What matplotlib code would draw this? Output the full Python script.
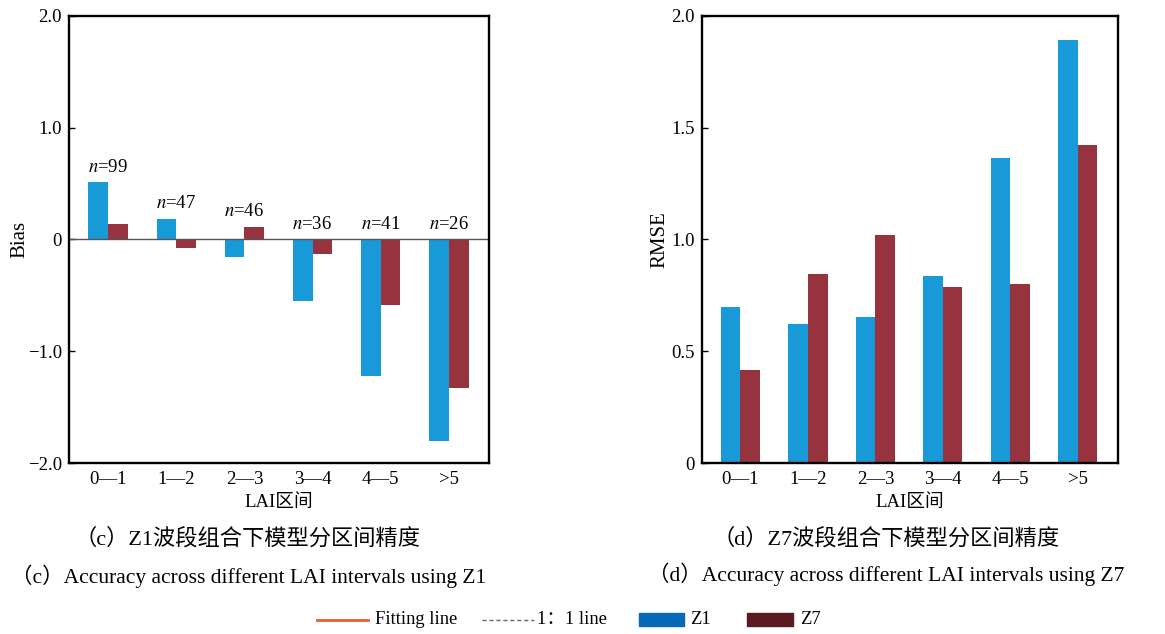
import matplotlib
matplotlib.use("Agg")
import matplotlib.pyplot as plt
from matplotlib.lines import Line2D
from matplotlib.patches import Rectangle
import numpy as np

plt.rcParams['font.family'] = ['Liberation Serif', 'Noto Sans CJK SC', 'DejaVu Sans']
plt.rcParams['mathtext.fontset'] = 'stix'

categories = ["0—1", "1—2", "2—3", "3—4", "4—5", ">5"]
n_counts = [99, 47, 46, 36, 41, 26]
bias_z1 = [0.51, 0.18, -0.155, -0.55, -1.22, -1.80]
bias_z7 = [0.14, -0.075, 0.115, -0.13, -0.585, -1.33]
rmse_z1 = [0.70, 0.622, 0.653, 0.835, 1.366, 1.894]
rmse_z7 = [0.415, 0.847, 1.021, 0.787, 0.802, 1.421]
bias_ticks = [-2.0, -1.0, 0.0, 1.0, 2.0]
bias_ticklabels = ["−2.0", "−1.0", "0", "1.0", "2.0"]
rmse_ticks = [0.0, 0.5, 1.0, 1.5, 2.0]
rmse_ticklabels = ["0", "0.5", "1.0", "1.5", "2.0"]

C_Z1 = "#199ad8"
C_Z7 = "#96333f"
FS = 13.5

fig = plt.figure(figsize=(11.65, 6.34), dpi=100)
axL = fig.add_axes([0.0592, 0.2697, 0.3605, 0.7051])
axR = fig.add_axes([0.6023, 0.2697, 0.3571, 0.7051])

x = np.arange(len(categories))
w = 0.29

def style(ax, ticks, labels, ylim, ylabel):
    ax.set_xlim(-0.575, 5.59)
    ax.set_ylim(*ylim)
    ax.set_yticks(ticks)
    ax.set_yticklabels(labels, fontsize=FS)
    ax.set_xticks(x)
    ax.set_xticklabels(categories, fontsize=FS)
    ax.tick_params(axis='y', direction='in', length=4, width=1, pad=5)
    ax.tick_params(axis='x', length=0, pad=6)
    for s in ax.spines.values():
        s.set_linewidth(1.7)
    ax.set_xlabel("LAI区间", fontsize=FS, labelpad=4)
    ax.set_ylabel(ylabel, fontsize=15)

# Left: Bias
axL.bar(x - w/2, bias_z1, w, color=C_Z1, linewidth=0)
axL.bar(x + w/2, bias_z7, w, color=C_Z7, linewidth=0)
axL.axhline(0, color="#555555", linewidth=1.0)
style(axL, bias_ticks, bias_ticklabels, (-2.0, 2.0), "Bias")
axL.yaxis.set_label_coords(-0.095, 0.5)
for i, n in enumerate(n_counts):
    top = max(0.0, bias_z1[i], bias_z7[i])
    axL.annotate(f"$n$={n}", xy=(x[i], top), xytext=(0, 5), textcoords="offset points",
                 ha="center", va="bottom", fontsize=FS)

# Right: RMSE
axR.bar(x - w/2, rmse_z1, w, color=C_Z1, linewidth=0)
axR.bar(x + w/2, rmse_z7, w, color=C_Z7, linewidth=0)
style(axR, rmse_ticks, rmse_ticklabels, (0.0, 2.0), "RMSE")
axR.yaxis.set_label_coords(-0.077, 0.5)

# Captions
W, H = 1165, 634
def ftext(px, py, s, fs):
    fig.text(px / W, 1 - py / H, s, ha="center", va="center", fontsize=fs)

ftext(248, 539, "（c）Z1波段组合下模型分区间精度", 16)
ftext(249, 576, "（c）Accuracy across different LAI intervals using Z1", 15.5)
ftext(886, 539, "（d）Z7波段组合下模型分区间精度", 16)
ftext(886, 574, "（d）Accuracy across different LAI intervals using Z7", 15.5)

# Legend (figure level)
ly = 1 - 620 / H
fig.add_artist(Line2D([317 / W, 368 / W], [ly, ly], color="#f05a3a", linewidth=2.0))
fig.text(375 / W, ly, "Fitting line", ha="left", va="center", fontsize=13.3)
fig.add_artist(Line2D([482 / W, 534 / W], [ly, ly], color="#666666", linewidth=1.0,
                      linestyle=(0, (3, 2))))
fig.text(537 / W, ly, "1：1 line", ha="left", va="center", fontsize=13.3)
fig.add_artist(Rectangle((639 / W, ly - 6 / H), 45 / W, 13 / H, color="#0869b6",
                         transform=fig.transFigure))
fig.text(690 / W, ly, "Z1", ha="left", va="center", fontsize=13.3)
fig.add_artist(Rectangle((747 / W, ly - 6 / H), 46 / W, 13 / H, color="#5a1b20",
                         transform=fig.transFigure))
fig.text(800 / W, ly, "Z7", ha="left", va="center", fontsize=13.3)

fig.savefig("out.png", dpi=100)
